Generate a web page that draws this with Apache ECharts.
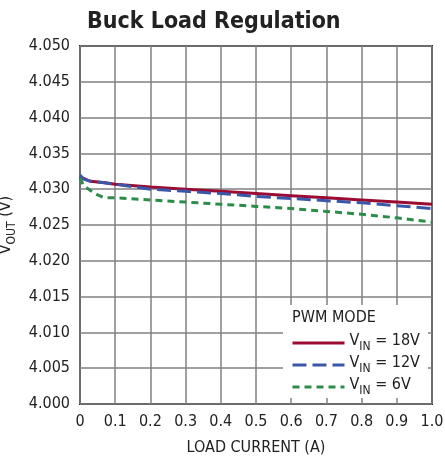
<!DOCTYPE html>
<html>
<head>
<meta charset="utf-8">
<script src="https://cdn.jsdelivr.net/npm/echarts@6/dist/echarts.min.js"></script>
<style>
  html, body { margin: 0; padding: 0; background: #fff; }
  #chart { width: 445px; height: 463px; }
</style>
</head>
<body>
<div id="chart"></div>
<script>
// load current (A)
var loadCurrent = [0, 0.01, 0.03, 0.05, 0.07, 0.1, 0.2, 0.3, 0.4, 0.5, 0.6, 0.7, 0.8, 0.9, 1.0];
// VOUT (V) per input voltage
var vin18 = [4.0318, 4.0315, 4.0311, 4.0310, 4.0309, 4.0307, 4.0303, 4.0300, 4.0297, 4.0294, 4.0291, 4.0288, 4.0285, 4.0282, 4.0279];
var vin12 = [4.0320, 4.0314, 4.0311, 4.0310, 4.0309, 4.0307, 4.0300, 4.0297, 4.0294, 4.0290, 4.0287, 4.0284, 4.0281, 4.0277, 4.0273];
var vin6  = [4.0316, 4.0305, 4.0298, 4.0292, 4.0288, 4.0288, 4.0285, 4.0282, 4.0279, 4.0276, 4.0273, 4.0269, 4.0265, 4.0260, 4.0254];
var seriesNames = ['18V', '12V', '6V'];

var FONT = '"Liberation Sans Narrow", "DejaVu Sans Condensed", "Liberation Sans", sans-serif';

function pairs(ys) {
  return ys.map(function (y, i) { return [loadCurrent[i], y]; });
}

var chart = echarts.init(document.getElementById('chart'));

var subRich = {
  v: { fontSize: 16, fontFamily: FONT, color: '#222', verticalAlign: 'bottom', padding: [0, 0, 4, 0] },
  s: { fontSize: 12, fontFamily: FONT, color: '#222', verticalAlign: 'bottom' }
};

chart.setOption({
  animation: false,
  title: {
    text: 'Buck Load Regulation',
    left: 82,
    top: 6,
    textStyle: { fontFamily: FONT, fontSize: 23, fontWeight: 'bold', color: '#222' }
  },
  grid: {
    left: 80, right: 13, top: 46, bottom: 59,
    outerBoundsMode: 'none',
    containLabel: false,
    show: true, borderColor: '#333', borderWidth: 2
  },
  xAxis: {
    type: 'value',
    min: 0, max: 1, interval: 0.1,
    name: 'LOAD CURRENT (A)',
    nameLocation: 'middle',
    nameGap: 36,
    nameTextStyle: { fontFamily: FONT, fontSize: 16, color: '#222' },
    axisLine: { show: false },
    axisTick: { show: false },
    axisLabel: {
      fontFamily: FONT, fontSize: 16, color: '#222', margin: 10,
      formatter: function (v) { return v === 0 ? '0' : v.toFixed(1); }
    },
    splitLine: { lineStyle: { color: '#808080', width: 1.5 } }
  },
  yAxis: {
    type: 'value',
    min: 4.0, max: 4.05, interval: 0.005,
    name: '{v|V}{s|OUT}{v| (V)}',
    nameLocation: 'middle',
    nameGap: 56,
    nameTextStyle: { rich: subRich },
    axisLine: { show: false },
    axisTick: { show: false },
    axisLabel: {
      fontFamily: FONT, fontSize: 16, color: '#222', margin: 10,
      formatter: function (v) { return v.toFixed(3); }
    },
    splitLine: { lineStyle: { color: '#808080', width: 1.5 } }
  },
  legend: {
    orient: 'vertical',
    left: 286,
    top: 328,
    z: 20,
    itemWidth: 52,
    itemHeight: 14,
    itemGap: 2,
    itemStyle: { opacity: 0 },
    lineStyle: { width: 3 },
    data: seriesNames,
    formatter: function (name) { return '{v|V}{s|IN}{v| = ' + name + '}'; },
    textStyle: { rich: subRich }
  },
  graphic: [
    {
      type: 'rect', z: 10,
      shape: { x: 283, y: 305, width: 145, height: 93 },
      style: { fill: '#fff' }
    },
    {
      type: 'text', z: 21, left: 292, top: 310,
      style: { text: 'PWM MODE', fontFamily: FONT, fontSize: 16, fill: '#222' }
    }
  ],
  series: [
    {
      name: '18V', type: 'line', data: pairs(vin18), symbol: 'none',
      lineStyle: { color: '#9c0b31', width: 3 }, itemStyle: { color: '#9c0b31' }
    },
    {
      name: '12V', type: 'line', data: pairs(vin12), symbol: 'none',
      lineStyle: { color: '#3b57a8', width: 3, type: [14, 6] }, itemStyle: { color: '#3b57a8' }
    },
    {
      name: '6V', type: 'line', data: pairs(vin6), symbol: 'none',
      lineStyle: { color: '#2c8c4a', width: 3, type: [7, 5] }, itemStyle: { color: '#2c8c4a' }
    }
  ]
});
</script>
</body>
</html>
